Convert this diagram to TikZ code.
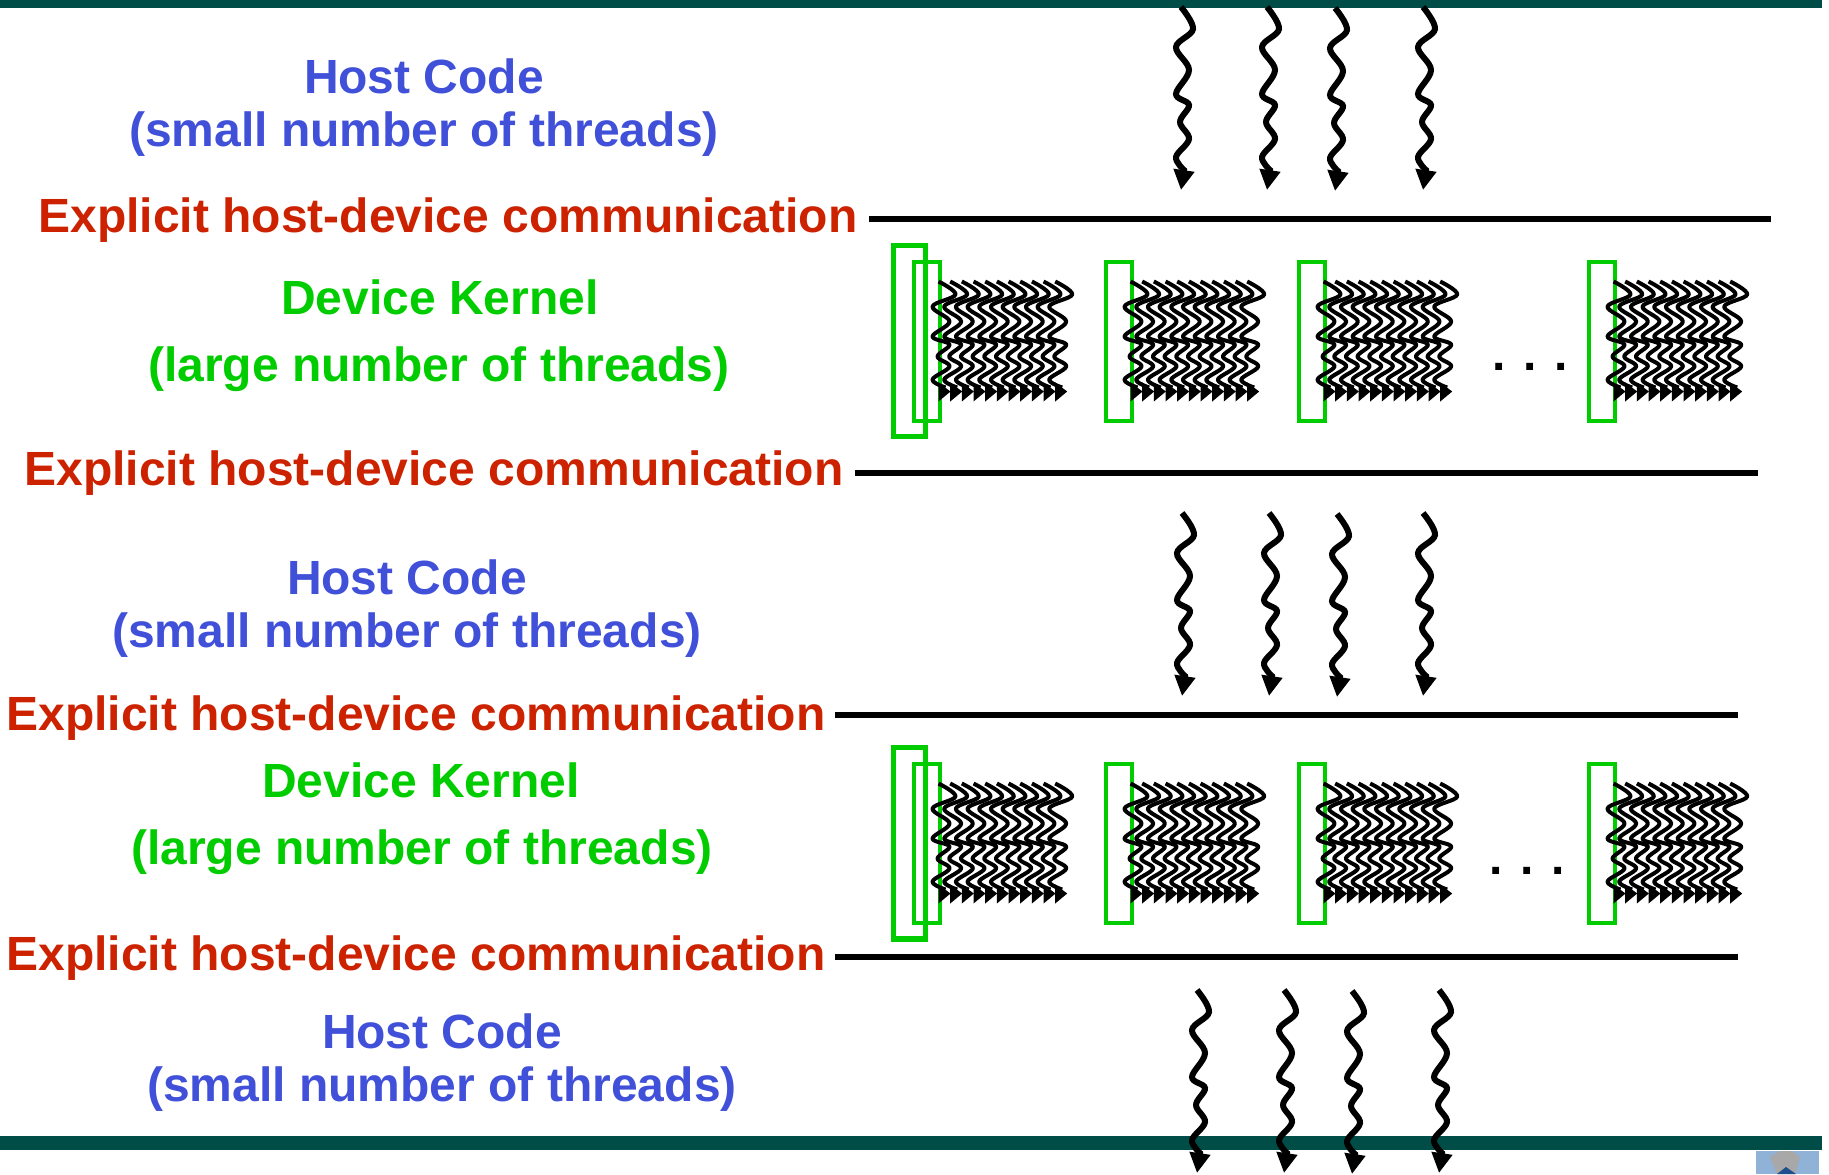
\documentclass[tikz,border=0pt]{standalone}
\usepackage{fontspec}
\setmainfont{Liberation Sans}
\usetikzlibrary{arrows.meta}

\definecolor{barteal}{HTML}{004D47}
\definecolor{hostblue}{HTML}{4050D8}
\definecolor{commred}{HTML}{CC2200}
\definecolor{kernelgreen}{HTML}{00CC00}
\definecolor{logoblue}{HTML}{8FB2D6}
\definecolor{logogrey}{HTML}{A8A8A8}
\definecolor{logodark}{HTML}{1F4F8F}

\tikzset{
  bar/.style={fill=barteal,draw=none},
  hostlabel/.style={text=hostblue,font=\fontsize{24}{26.5}\selectfont\bfseries,align=center},
  commlabel/.style={text=commred,font=\fontsize{24}{26}\selectfont\bfseries},
  kernellabel/.style={text=kernelgreen,font=\fontsize{24}{26}\selectfont\bfseries},
  dotlabel/.style={font=\fontsize{24}{26}\selectfont\bfseries,anchor=base},
  rule/.style={line width=2.8pt},
  hostthread/.style={line width=3pt,-{Triangle[length=10pt,width=10pt]}},
  kernelthread/.style={line width=2pt,line join=round},
  kernelbox/.style={draw=kernelgreen,line width=2pt},
  outerbox/.style={draw=kernelgreen,line width=2.8pt},
  pics/hostwave/.style={code={
    \draw[hostthread] plot[smooth,tension=0.6] coordinates {(0,0) (12,22) (-5,40) (8,63) (-5,87) (8,98) (-1,115) (8,132) (-5,150) (3,163)} -- (0,183);
  }},
  pics/kernelwave/.style={code={
    \draw[kernelthread] plot[smooth,tension=0.6] coordinates {(0,0) (17,13) (-6,25) (11,40) (-6,55) (11,63) (-1,75) (11,85) (-6,98) (7,106)};
    \fill (0,101) -- (12,110) -- (0,120) -- cycle;
  }},
  pics/kernelgroup/.style={code={
    \node[kernelbox,minimum width=13pt,minimum height=79.5pt,inner sep=0pt] (box) at (13,79.5) {};
    \foreach \col in {0,...,10}
      \pic at ({24.5+\col*11.67},20) {kernelwave};
  }},
}

\begin{document}
\begin{tikzpicture}[x=0.5pt,y=-0.5pt]
\useasboundingbox (0,0) rectangle (1829,1174);

\fill[bar] (0,0) rectangle (1822,8);
\fill[bar] (0,1136) rectangle (1822,1150);

% logo in the corner
\fill[logoblue] (1756,1151) rectangle (1819,1174);
\fill[logogrey] (1777,1174) -- (1770,1157) -- (1780,1151) -- (1792,1151) -- (1800,1157) -- (1795,1174) -- cycle;
\fill[logodark] (1777,1174) -- (1786,1167) -- (1796,1174) -- cycle;

\node[hostlabel] (host1) at (424,108) {Host Code\\(small number of threads)};
\node[commlabel] (comm1) at (448,220) {Explicit host-device communication};
\node[kernellabel] (kernel1) at (440,297) {Device Kernel};
\node[kernellabel] (large1) at (439,369) {(large number of threads)};
\node[commlabel] (comm2) at (434,473) {Explicit host-device communication};
\node[hostlabel] (host2) at (407,609) {Host Code\\(small number of threads)};
\node[commlabel] (comm3) at (416,718) {Explicit host-device communication};
\node[kernellabel] (kernel2) at (421,780) {Device Kernel};
\node[kernellabel] (large2) at (422,852) {(large number of threads)};
\node[commlabel] (comm4) at (416,958) {Explicit host-device communication};
\node[hostlabel] (host3) at (442,1063) {Host Code\\(small number of threads)};

\coordinate (line1a) at (869,219);
\coordinate (line1b) at (1771,219);
\coordinate (line2a) at (855,473);
\coordinate (line2b) at (1758,473);
\coordinate (line3a) at (835,715);
\coordinate (line3b) at (1738,715);
\coordinate (line4a) at (835,957);
\coordinate (line4b) at (1738,957);
\draw[rule] (line1a) -- (line1b);
\draw[rule] (line2a) -- (line2b);
\draw[rule] (line3a) -- (line3b);
\draw[rule] (line4a) -- (line4b);

\foreach \px/\py in {1181/7,1267/7,1335/8,1423/7,1182/513,1269/513,1337/514,1423/513,1197/990,1284/990,1352/991,1439/990}
  \pic at (\px,\py) {hostwave};

\foreach \py in {261.5,763.5}{
  \foreach \px in {914,1106,1299,1589}
    \pic at (\px,\py) {kernelgroup};
}
\draw[outerbox] (893.5,245.5) rectangle (925.5,436.5);
\draw[outerbox] (893.5,747.5) rectangle (925.5,939);

\node[dotlabel] (dots1) at (1530,370) {. . .};
\node[dotlabel] (dots2) at (1527.5,874) {. . .};

\end{tikzpicture}
\end{document}
